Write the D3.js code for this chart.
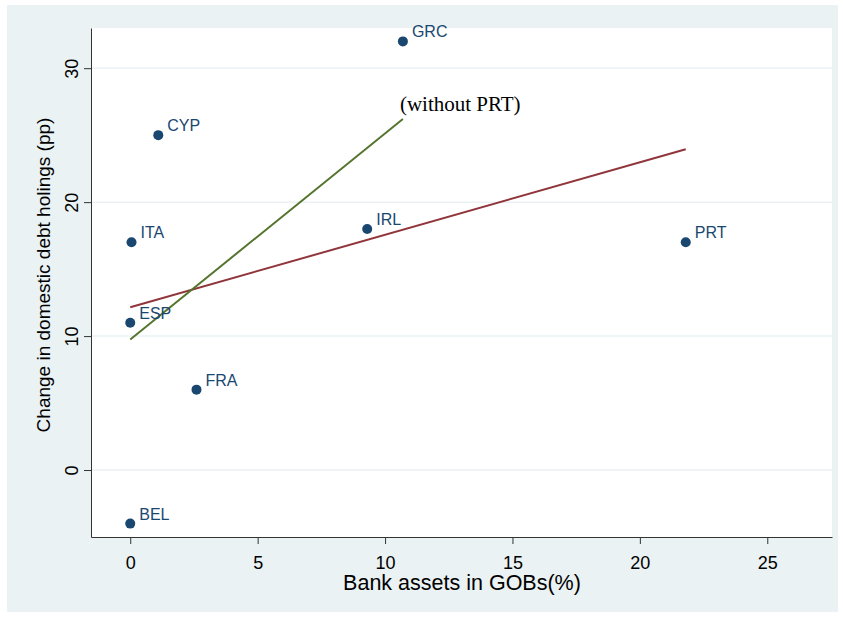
<!DOCTYPE html>
<html>
<head>
<meta charset="utf-8">
<script src="https://cdn.jsdelivr.net/npm/d3@7"></script>
<style>
  body { margin: 0; background: #fff; }
</style>
</head>
<body>
<svg id="chart"></svg>
<script>
// country points
const countries = ["GRC", "CYP", "ITA", "IRL", "PRT", "ESP", "FRA", "BEL"];
const bankAssets = [10.7, 1.1, 0.05, 9.3, 21.8, 0, 2.6, 0];
const debtChange = [32, 25, 17, 18, 17, 11, 6, -4];

// fitted lines: [x0, y0, x1, y1]
const fitAll = [0, 12.15, 21.8, 23.95];
const fitNoPRT = [0, 9.75, 10.7, 26.2];

const xTicks = [0, 5, 10, 15, 20, 25];
const yTicks = [0, 10, 20, 30];

const width = 843;
const height = 619;
const margin = { top: 28, right: 11, bottom: 82, left: 91 };

const svg = d3.select("#chart")
    .attr("width", width)
    .attr("height", height);

// outer background
svg.append("rect")
    .attr("x", 7).attr("y", 5)
    .attr("width", 831).attr("height", 607)
    .attr("fill", "#eaf2f3");

const x = d3.scaleLinear()
    .domain([-1.54, 27.54])
    .range([margin.left, width - margin.right]);

const y = d3.scaleLinear()
    .domain([-5, 33])
    .range([height - margin.bottom, margin.top]);

// plot region
svg.append("rect")
    .attr("x", margin.left).attr("y", margin.top)
    .attr("width", width - margin.right - margin.left)
    .attr("height", height - margin.bottom - margin.top)
    .attr("fill", "#fff");

// gridlines
svg.append("g")
    .selectAll("line")
    .data(yTicks)
    .join("line")
    .attr("x1", margin.left).attr("x2", width - margin.right)
    .attr("y1", d => y(d)).attr("y2", d => y(d))
    .attr("stroke", "#eaf2f3")
    .attr("stroke-width", 1.5);

// x axis
const xAxis = svg.append("g")
    .attr("transform", `translate(0,${height - margin.bottom})`)
    .call(d3.axisBottom(x).tickValues(xTicks).tickSize(7).tickPadding(12).tickSizeOuter(0));
xAxis.select(".domain").attr("stroke", "#333");
xAxis.selectAll(".tick line").attr("stroke", "#333");
xAxis.selectAll("text")
    .attr("font-family", "Liberation Sans, Arial, sans-serif")
    .attr("font-size", 18)
    .attr("fill", "#000");

// y axis
const yAxis = svg.append("g")
    .attr("transform", `translate(${margin.left},0)`)
    .call(d3.axisLeft(y).tickValues(yTicks).tickSize(7).tickSizeOuter(0));
yAxis.select(".domain").attr("stroke", "#333");
yAxis.selectAll(".tick line").attr("stroke", "#333");
yAxis.selectAll("text")
    .attr("font-family", "Liberation Sans, Arial, sans-serif")
    .attr("font-size", 18)
    .attr("fill", "#000")
    .attr("text-anchor", "middle")
    .attr("dy", 0)
    .attr("x", 0)
    .attr("transform", "translate(-13,0) rotate(-90)");

// fitted lines
svg.append("line")
    .attr("x1", x(fitAll[0])).attr("y1", y(fitAll[1]))
    .attr("x2", x(fitAll[2])).attr("y2", y(fitAll[3]))
    .attr("stroke", "#90353b")
    .attr("stroke-width", 2);

svg.append("line")
    .attr("x1", x(fitNoPRT[0])).attr("y1", y(fitNoPRT[1]))
    .attr("x2", x(fitNoPRT[2])).attr("y2", y(fitNoPRT[3]))
    .attr("stroke", "#55752f")
    .attr("stroke-width", 2);

svg.append("text")
    .attr("x", x(fitNoPRT[2]) - 3)
    .attr("y", y(fitNoPRT[3]) - 8)
    .attr("font-family", "Liberation Serif, Times New Roman, serif")
    .attr("font-size", 21)
    .attr("fill", "#000")
    .text("(without PRT)");

// points and labels
const pts = countries.map((c, i) => ({ name: c, x: bankAssets[i], y: debtChange[i] }));

svg.append("g")
    .selectAll("circle")
    .data(pts)
    .join("circle")
    .attr("cx", d => x(d.x))
    .attr("cy", d => y(d.y))
    .attr("r", 5)
    .attr("fill", "#1a476f");

svg.append("g")
    .selectAll("text")
    .data(pts)
    .join("text")
    .attr("x", d => x(d.x) + 9)
    .attr("y", d => y(d.y) - 4)
    .attr("font-family", "Liberation Sans, Arial, sans-serif")
    .attr("font-size", 16)
    .attr("fill", "#1a476f")
    .text(d => d.name);

// axis titles
svg.append("text")
    .attr("x", 462)
    .attr("y", 590)
    .attr("text-anchor", "middle")
    .attr("font-family", "Liberation Sans, Arial, sans-serif")
    .attr("font-size", 21.5)
    .attr("fill", "#000")
    .text("Bank assets in GOBs(%)");

svg.append("text")
    .attr("transform", "translate(50,275) rotate(-90)")
    .attr("text-anchor", "middle")
    .attr("font-family", "Liberation Sans, Arial, sans-serif")
    .attr("font-size", 19)
    .attr("fill", "#000")
    .text("Change in domestic debt holings (pp)");
</script>
</body>
</html>
